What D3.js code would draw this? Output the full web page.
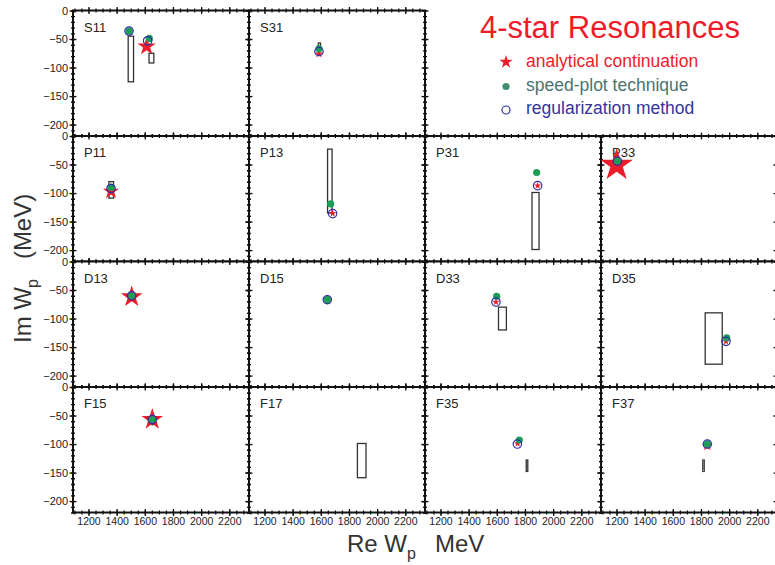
<!DOCTYPE html>
<html>
<head>
<meta charset="utf-8">
<script src="https://cdn.jsdelivr.net/npm/d3@7"></script>
<style>
body { margin: 0; background: #fff; }
</style>
</head>
<body>
<div id="vis"></div>
<script>
// resonances, in the order they are laid out (first two sit on the top row)
const panels = ["S11", "S31", "P11", "P13", "P31", "P33", "D13", "D15", "D33", "D35", "F15", "F17", "F35", "F37"];

// analytical continuation: [panel, Re, Im, spread in MeV (drawn as star radius)]
const anaCont = [
  ["S11", 1490, -38, 7], ["S11", 1613, -63, 17], ["S31", 1587, -76, 8],
  ["P11", 1360, -97, 15], ["P13", 1684, -136, 7], ["P31", 1890, -87, 7],
  ["P33", 1201, -51, 30], ["D13", 1507, -62, 20], ["D15", 1646, -67, 9],
  ["D33", 1594, -71, 7], ["D35", 1978, -140, 7], ["F15", 1653, -57, 20],
  ["F35", 1748, -99, 7], ["F37", 1845, -103, 10]
];
// speed-plot technique: [panel, Re, Im]
const speedPlot = [
  ["S11", 1488, -36], ["S11", 1632, -49], ["S31", 1587, -67],
  ["P11", 1360, -90], ["P13", 1670, -119], ["P31", 1883, -64],
  ["P33", 1206, -44], ["D13", 1507, -60], ["D15", 1646, -67],
  ["D33", 1599, -61], ["D35", 1983, -134], ["F15", 1653, -57],
  ["F35", 1760, -93], ["F37", 1845, -100]
];
// regularization method: [panel, Re, Im]
const regular = [
  ["S11", 1488, -36], ["S11", 1620, -53], ["S31", 1587, -72],
  ["P11", 1360, -92], ["P13", 1684, -136], ["P31", 1890, -87],
  ["P33", 1206, -44], ["D13", 1507, -60], ["D15", 1646, -67],
  ["D33", 1594, -71], ["D35", 1978, -140], ["F15", 1653, -57],
  ["F35", 1746, -100], ["F37", 1845, -100]
];
// estimate ranges: [panel, Re min, Re max, Im min, Im max]
const ranges = [
  ["S11", 1482, 1520, -125, -45], ["S11", 1630, 1664, -92, -75],
  ["S31", 1582, 1598, -64, -57], ["P11", 1345, 1378, -109, -80],
  ["P13", 1648, 1680, -135, -23], ["P31", 1850, 1900, -199, -99],
  ["D13", 1503, 1513, -58, -52], ["D15", 1640, 1655, -73, -62],
  ["D33", 1612, 1668, -120, -80], ["D35", 1830, 1951, -180, -90],
  ["F15", 1650, 1660, -66, -55], ["F17", 1860, 1921, -159, -99],
  ["F35", 1809, 1820, -148, -128], ["F37", 1813, 1823, -148, -128]
];

const xTicks = [1200, 1400, 1600, 1800, 2000, 2200];
const yTicks = [0, -50, -100, -150, -200];
const legendLabels = ["analytical continuation", "speed-plot technique", "regularization method"];

const WIDTH = 775, HEIGHT = 565;
const PW = 176, PH = 125.5;
const LEFT = 73, TOP = 10.5;

const RED = "#ee1c2a", GREEN = "#1c9e55", BLUE = "#2e2ea3";

const svg = d3.select("#vis").append("svg")
  .attr("width", WIDTH).attr("height", HEIGHT)
  .style("font-family", "'Liberation Sans', Arial, sans-serif");

const X = d3.scaleLinear().domain([1090, 2340]).range([0, PW]);
const Y = d3.scaleLinear().domain([-220, 0]).range([PH, 0]);

const xMinor = d3.range(1100, 2340, 50);
const yMinor = d3.range(-220, 1, 10);

function slot(i) {
  if (i < 2) return {col: i, row: 0};
  return {col: (i - 2) % 4, row: 1 + Math.floor((i - 2) / 4)};
}

// ticks that cross the frame line: one axis each way
function crossTicks(g, axisA, axisB, scale, values, size, tr) {
  [axisA, axisB].forEach(ax => {
    const a = g.append("g").attr("transform", tr)
      .call(ax(scale).tickValues(values).tickSize(size).tickFormat(""));
    a.select(".domain").remove();
    a.selectAll("line").attr("stroke", "#111").attr("stroke-width", 1.3);
  });
}

const star = d3.symbol().type(d3.symbolStar);

panels.forEach((name, i) => {
  const s = slot(i);
  const g = svg.append("g")
    .attr("transform", "translate(" + (LEFT + s.col * PW) + "," + (TOP + s.row * PH) + ")");

  g.append("rect")
    .attr("width", PW).attr("height", PH)
    .attr("fill", "white").attr("stroke", "#111").attr("stroke-width", 2);

  // frame ticks
  ["translate(0,0)", "translate(0," + PH + ")"].forEach(t => {
    crossTicks(g, d3.axisTop, d3.axisBottom, X, xTicks, 3.5, t);
    crossTicks(g, d3.axisTop, d3.axisBottom, X, xMinor, 2, t);
  });
  ["translate(0,0)", "translate(" + PW + ",0)"].forEach(t => {
    crossTicks(g, d3.axisLeft, d3.axisRight, Y, yTicks, 3.5, t);
    crossTicks(g, d3.axisLeft, d3.axisRight, Y, yMinor, 2, t);
  });

  if (s.col === 0) {
    const ay = g.append("g").call(d3.axisLeft(Y).tickValues(yTicks).tickSize(0).tickPadding(5));
    ay.select(".domain").remove();
    ay.selectAll("text").attr("font-size", 11).attr("fill", "#222")
      .attr("font-family", "'Liberation Sans', Arial, sans-serif");
  }
  if (s.row === 3) {
    const ax = g.append("g").attr("transform", "translate(0," + PH + ")")
      .call(d3.axisBottom(X).tickValues(xTicks).tickFormat(d3.format("d")).tickSize(0).tickPadding(5));
    ax.select(".domain").remove();
    ax.selectAll("text").attr("font-size", 10.5).attr("fill", "#222")
      .attr("font-family", "'Liberation Sans', Arial, sans-serif");
  }

  g.append("text").attr("x", 11).attr("y", 21)
    .attr("font-size", 13).attr("fill", "#222").text(name);

  g.selectAll(".range").data(ranges.filter(d => d[0] === name)).enter()
    .append("rect").attr("class", "range")
    .attr("x", d => X(d[1])).attr("width", d => X(d[2]) - X(d[1]))
    .attr("y", d => Y(d[4])).attr("height", d => Y(d[3]) - Y(d[4]))
    .attr("fill", "white").attr("stroke", "#333").attr("stroke-width", 1.3);

  g.selectAll(".star").data(anaCont.filter(d => d[0] === name)).enter()
    .append("path").attr("class", "star")
    .attr("transform", d => "translate(" + X(d[1]) + "," + Y(d[2]) + ")")
    .attr("d", d => {
      const r = Y(-d[3]) - Y(0);
      return star.size(r * r / 0.8908130915292852)();
    })
    .attr("fill", RED);

  g.selectAll(".sp").data(speedPlot.filter(d => d[0] === name)).enter()
    .append("circle").attr("class", "sp")
    .attr("cx", d => X(d[1])).attr("cy", d => Y(d[2])).attr("r", 3.6)
    .attr("fill", GREEN);

  g.selectAll(".rg").data(regular.filter(d => d[0] === name)).enter()
    .append("circle").attr("class", "rg")
    .attr("cx", d => X(d[1])).attr("cy", d => Y(d[2])).attr("r", 4.2)
    .attr("fill", "none").attr("stroke", BLUE).attr("stroke-width", 1.2);
});

// axis titles
const xt = svg.append("g").attr("fill", "#333").attr("font-size", 24);
const xr = xt.append("text").attr("x", 347).attr("y", 552).text("Re W");
xr.append("tspan").attr("dy", 7).attr("font-size", 16).text("p");
xt.append("text").attr("x", 435).attr("y", 552).text("MeV");

const yt = svg.append("text").attr("fill", "#333").attr("font-size", 24)
  .attr("transform", "translate(31,343) rotate(-90)").text("Im W");
yt.append("tspan").attr("dy", 7).attr("dx", -1).attr("font-size", 16).text("p");
yt.append("tspan").attr("dy", -7).attr("dx", 20).text("(MeV)");

// title and legend
svg.append("text").attr("x", 610).attr("y", 38).attr("text-anchor", "middle")
  .attr("font-size", 31).attr("fill", RED).text("4-star Resonances");

const lg = svg.append("g").attr("font-size", 17.5);
lg.append("path").attr("transform", "translate(506,62)")
  .attr("d", star.size(49 / 0.8908130915292852)()).attr("fill", RED);
lg.append("circle").attr("cx", 506).attr("cy", 86.5).attr("r", 3.6).attr("fill", "#3f8f6e");
lg.append("circle").attr("cx", 506).attr("cy", 110).attr("r", 4)
  .attr("fill", "none").attr("stroke", BLUE).attr("stroke-width", 1.2);
const legendColors = [RED, "#4a7470", "#34349a"];
lg.selectAll(".lt").data(legendLabels).enter().append("text").attr("class", "lt")
  .attr("x", 526).attr("y", (d, i) => 67 + i * 23.7)
  .attr("fill", (d, i) => legendColors[i]).text(d => d);
</script>
</body>
</html>
